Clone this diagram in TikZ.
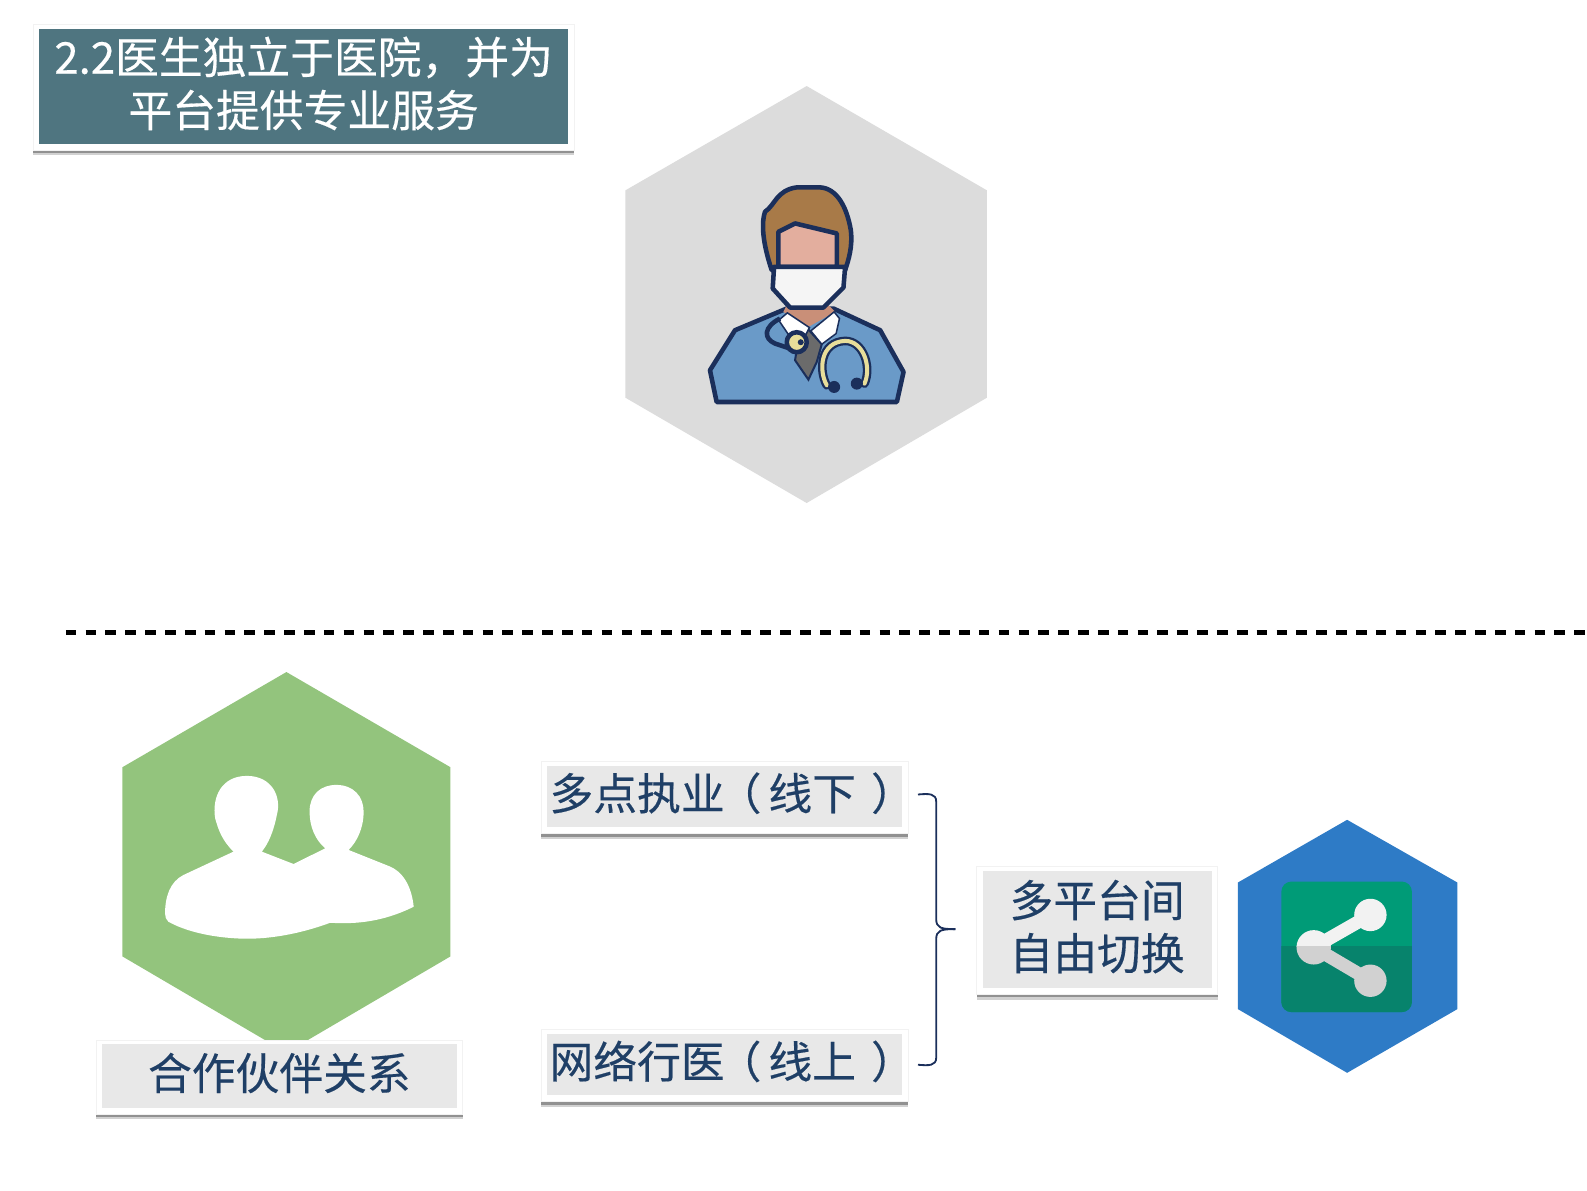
\documentclass[tikz,border=0pt]{standalone}
\usepackage{fontspec}
\setmainfont[RawFeature={embolden=0.35}]{Noto Sans CJK SC}
\usetikzlibrary{shadows,positioning}

\definecolor{titleteal}{HTML}{4F7580}
\definecolor{hexgray}{HTML}{DCDCDC}
\definecolor{hexgreen}{HTML}{93C47D}
\definecolor{hexblue}{HTML}{2E7BC6}
\definecolor{boxgray}{HTML}{E8E8E8}
\definecolor{navytext}{HTML}{1F3F66}
\definecolor{navyline}{HTML}{1B2F5B}
\definecolor{sharetop}{HTML}{009B77}
\definecolor{sharelow}{HTML}{07836C}
\definecolor{hairbrown}{HTML}{A87A48}
\definecolor{faceskin}{HTML}{E3AE9E}
\definecolor{neckskin}{HTML}{C98F78}
\definecolor{coatblue}{HTML}{6A9AC8}
\definecolor{tubeyellow}{HTML}{E8DE9A}

\newcommand{\openpar}{\kern-0.07cm（\kern0.07cm}
\newcommand{\closepar}{\kern0.15cm）\kern-0.15cm}

\tikzset{
	labelbox/.style={draw=black!5, line width=0.006cm, fill=white, text=navytext, align=center, inner sep=0pt,
		font=\fontsize{12.3pt}{14.9pt}\selectfont,
		path picture={\fill[#1] ([shift={(0.06cm,0.06cm)}]path picture bounding box.south west) rectangle ([shift={(-0.06cm,-0.045cm)}]path picture bounding box.north east);},
		drop shadow={shadow xshift=0cm, shadow yshift=-0.055cm, opacity=0.3, fill=black!60},
		drop shadow={shadow xshift=0cm, shadow yshift=-0.035cm, opacity=0.6, fill=black!60}},
	oneline/.style={text height=10.8pt, text depth=3.6pt},
	twolines/.style={text height=25.7pt, text depth=3.4pt},
	outline/.style={draw=navyline, line width=0.045cm, line join=round}
}

\begin{document}
\begin{tikzpicture}[x=0.01cm,y=-0.01cm]
	
	\useasboundingbox (0,0) rectangle (1568,1176);
	
	% hexagons
	\fill[hexgray] (797,85)--(975,188)--(975,393)--(797,497)--(618,393)--(618,188)--cycle;
	\fill[hexgreen] (283,664)--(445,758)--(445,945)--(283,1040)--(121,945)--(121,758)--cycle;
	\fill[hexblue] (1331,810)--(1440,872)--(1440,997)--(1331,1060)--(1223,997)--(1223,872)--cycle;
	
	\draw[line width=0.05cm, dash pattern=on 0.105cm off 0.091cm] (65,625)--(1568,625);
	
	% text boxes
	\node[labelbox=titleteal, twolines, text=white, minimum width=5.34cm, minimum height=1.24cm] (title) at (300,86) {2.2医生独立于医院，并为\\平台提供专业服务};
	\node[labelbox=boxgray, oneline, minimum width=3.62cm, minimum height=0.73cm] (partner) at (276,1064) {合作伙伴关系};
	\node[labelbox=boxgray, oneline, minimum width=3.62cm, minimum height=0.71cm] (offline) at (716,787.5) {多点执业\openpar 线下\closepar};
	\node[labelbox=boxgray, oneline, minimum width=3.62cm, minimum height=0.71cm] (online) at (716,1052.5) {网络行医\openpar 线上\closepar};
	\node[labelbox=boxgray, twolines, minimum width=2.38cm, minimum height=1.26cm] (switch) at (1084,919) {多平台间\\自由切换};
	
	% brace
	\coordinate (bracetop) at (907,785);
	\coordinate (bracetip) at (944,918);
	\coordinate (bracelow) at (907,1052);
	\draw[navyline, line width=0.018cm] (bracetop) .. controls (918,784) and (925,784) .. (925,792) -- (925,908) .. controls (925,917) and (930,918) .. (bracetip);
	\draw[navyline, line width=0.018cm] (bracelow) .. controls (918,1053) and (925,1053) .. (925,1045) -- (925,928) .. controls (925,919) and (930,918) .. (bracetip);
	
	% share icon
	\fill[sharetop, rounded corners=0.1cm] (1266,871) rectangle (1395,1000);
	\begin{scope}
		\clip (1260,935) rectangle (1400,1005);
		\fill[sharelow, rounded corners=0.1cm] (1266,871) rectangle (1395,1000);
	\end{scope}
	\begin{scope}
		\clip (1260,865) rectangle (1400,935);
		\draw[line width=0.13cm, color=black!5] (1354,904)--(1298,936)--(1354,969);
		\fill[black!5] (1354,904) circle (16);
		\fill[black!5] (1298,936) circle (17);
	\end{scope}
	\begin{scope}
		\clip (1260,935) rectangle (1400,1005);
		\draw[line width=0.13cm, color=black!18] (1354,904)--(1298,936)--(1354,969);
		\fill[black!18] (1298,936) circle (17);
		\fill[black!18] (1354,969) circle (16);
	\end{scope}
	
	% people
	\begin{scope}[shift={(79,731)}, x=0.003293cm, y=-0.003293cm]
		\fill[white] (255,520) .. controls (255,470) and (270,425) .. (310,405) -- (460,335)
			.. controls (425,300) and (415,270) .. (405,235) .. controls (395,170) and (425,108) .. (500,108)
			.. controls (575,108) and (605,170) .. (590,225) .. controls (580,275) and (565,310) .. (545,335)
			-- (640,372) -- (735,325) .. controls (705,300) and (688,260) .. (688,215)
			.. controls (688,165) and (720,135) .. (768,135) .. controls (820,135) and (850,170) .. (850,215)
			.. controls (850,265) and (830,305) .. (805,330) -- (930,380)
			.. controls (975,400) and (995,450) .. (1000,500) .. controls (930,535) and (850,555) .. (750,548)
			.. controls (650,585) and (550,600) .. (470,595) .. controls (380,590) and (310,570) .. (265,545)
			.. controls (258,540) and (255,530) .. (255,520) -- cycle;
	\end{scope}
	
	% doctor
	\begin{scope}[shift={(671.8,168)}, x=0.003293cm, y=-0.003293cm]
		\draw[outline, fill=hairbrown] (275,300) .. controls (255,240) and (240,170) .. (255,125) .. controls (285,105) and (290,60) .. (350,52)
			-- (420,52) .. controls (470,55) and (500,110) .. (512,180) .. controls (518,230) and (505,270) .. (495,300) -- cycle;
		\draw[outline, fill=faceskin] (295,290) -- (295,185) -- (345,160) -- (470,190) -- (470,290) -- cycle;
		\draw[outline, fill=coatblue] (90,600) -- (165,480) -- (320,415) -- (460,415) -- (600,480) -- (670,605) -- (650,695) -- (110,695) -- cycle;
		\fill[neckskin] (320,405) -- (445,405) -- (465,425) -- (385,470) -- (310,425) -- cycle;
		\draw[navyline, line width=0.02cm, fill=black!58] (385,478) -- (425,522) -- (410,575) -- (385,628) -- (345,570) -- (355,505) -- cycle;
		\draw[navyline, line width=0.015cm, fill=white] (296,450) -- (322,428) -- (388,472) -- (378,492) -- (338,512) -- cycle;
		\draw[navyline, line width=0.015cm, fill=white] (392,482) -- (462,425) -- (478,445) -- (468,490) -- (425,522) -- cycle;
		\draw[outline, fill=black!4] (282,290) -- (495,290) -- (490,352) -- (430,412) -- (330,412) -- (278,355) -- cycle;
		\draw[outline] (300,445) .. controls (250,470) and (250,505) .. (285,520) -- (330,535);
		\draw[outline, fill=tubeyellow] (350,516) circle (30);
		\fill[navyline] (362,516) circle (9);
		\draw[navyline, line width=0.085cm, line cap=round] (440,645) .. controls (415,600) and (420,515) .. (495,512) .. controls (550,512) and (575,590) .. (553,640);
		\draw[tubeyellow, line width=0.04cm, line cap=round] (440,645) .. controls (415,600) and (420,515) .. (495,512) .. controls (550,512) and (575,590) .. (553,640);
		\fill[navyline] (462,650) circle (18);
		\fill[navyline] (530,640) circle (18);
	\end{scope}
	
\end{tikzpicture}
\end{document}
